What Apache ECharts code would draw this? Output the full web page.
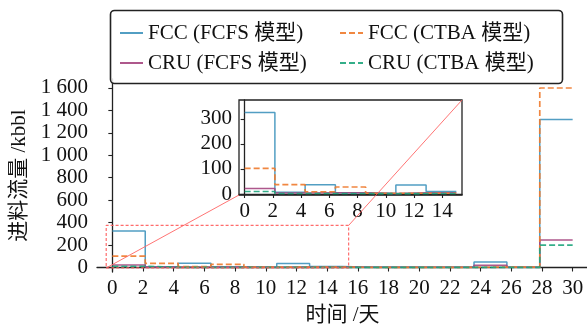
<!DOCTYPE html>
<html><head><meta charset="utf-8">
<script src="https://cdn.jsdelivr.net/npm/echarts@6/dist/echarts.min.js"></script>
<style>html,body{margin:0;padding:0;background:#fff}#c{width:587px;height:324px}</style>
</head><body><div id="c"></div>
<script>
// step boundaries (days)
const times = [0, 2.143, 4.286, 6.429, 8.571, 10.714, 12.857, 15, 17.143, 19.286, 21.429, 23.571, 25.714, 27.857, 30];
// feed flow per interval (kbbl)
const fccFcfs = [325, 7, 37, 5, 2, 36, 10, 2, 2, 2, 2, 50, 2, 1320];
const cruFcfs = [22, 4, 5, 5, 2, 5, 5, 2, 2, 2, 2, 20, 2, 245];
const fccCtba = [102, 37, 9, 28, 3, 3, 3, 2, 2, 2, 2, 3, 3, 1600];
const cruCtba = [10, 2, 2, 2, 1, 2, 2, 1, 1, 1, 1, 2, 2, 200];
const names = ['FCC (FCFS 模型)', 'CRU (FCFS 模型)', 'FCC (CTBA 模型)', 'CRU (CTBA 模型)'];
const mainXTicks = [0,2,4,6,8,10,12,14,16,18,20,22,24,26,28,30];
const mainYTicks = [0,200,400,600,800,1000,1200,1400,1600];
const insetXTicks = [0,2,4,6,8,10,12,14];
const insetYTicks = [0,100,200,300];
const insetXLim = [-0.4, 15.4];
const insetYLim = [-4, 375];

const FONT = "'Liberation Serif', 'Noto Sans CJK SC', serif";
const colors = ['#3f93bd', '#a5467f', '#ee7a2c', '#1ea57c'];
const dashes = ['solid', 'solid', [6,3], [6,3]];
const widths = [1.5, 1.6, 1.7, 1.7];
const allVals = [fccFcfs, cruFcfs, fccCtba, cruCtba];

function stepData(vals, upto) {
  let n = vals.length;
  if (upto !== undefined) { n = 0; while (n < vals.length && times[n+1] <= upto + 1e-6) n++; }
  const pts = vals.slice(0, n).map((v, i) => [times[i], v]);
  pts.push([times[n], vals[n-1]]);
  return pts;
}
function fmt(v){ return String(v).replace(/\B(?=(\d{3})+(?!\d))/g, ' '); }

const txt = {fontFamily: FONT, fontSize: 21, color: '#111'};
const series = [];
allVals.forEach((vals, k) => {
  series.push({name: names[k], type: 'line', step: 'end', symbol: 'none', xAxisIndex: 0, yAxisIndex: 0,
    data: stepData(vals), lineStyle: {color: colors[k], width: widths[k], type: dashes[k], opacity: 0.9},
    itemStyle: {color: colors[k]}, z: 2 + k, animation: false});
});
allVals.forEach((vals, k) => {
  series.push({name: names[k], type: 'line', step: 'end', symbol: 'none', xAxisIndex: 1, yAxisIndex: 1,
    data: stepData(vals, 15), lineStyle: {color: colors[k], width: widths[k], type: dashes[k], opacity: 0.9},
    itemStyle: {color: colors[k]}, z: 12 + k, animation: false});
});
series.push({name: 'zoomRect', type: 'line', symbol: 'none', xAxisIndex: 0, yAxisIndex: 0, z: 8,
  data: [[insetXLim[0], insetYLim[0]], [insetXLim[1], insetYLim[0]], [insetXLim[1], insetYLim[1]], [insetXLim[0], insetYLim[1]], [insetXLim[0], insetYLim[0]]],
  lineStyle: {color: '#ff5c5c', width: 1.2, type: [3, 2], opacity: 0.9}, animation: false, silent: true});

const axisLine = {show: true, lineStyle: {color: '#222', width: 1.3}};
const axisTick = {show: true, length: 4, lineStyle: {color: '#222', width: 1.1}};

const chart = echarts.init(document.getElementById('c'), null, {renderer: 'canvas'});
const legendCommon = {orient: 'vertical', top: 21, padding: 0, itemGap: 6, itemWidth: 23, itemHeight: 10,
  itemStyle: {color: 'rgba(0,0,0,0)', borderWidth: 0, borderColor: 'rgba(0,0,0,0)'},
  textStyle: {fontFamily: FONT, fontSize: 21, color: '#111', lineHeight: 24}, z: 6, selectedMode: false};
chart.setOption({
  backgroundColor: '#fff',
  animation: false,
  grid: [
    {left: 97, top: 79, width: 491, height: 193, containLabel: false, outerBoundsMode: 'none'},
    {left: 239, top: 100, width: 223, height: 95, containLabel: false, outerBoundsMode: 'none', show: true,
     backgroundColor: '#fff', borderColor: '#222', borderWidth: 1.3, z: 10}
  ],
  xAxis: [
    {type: 'value', gridIndex: 0, min: -1, max: 31, axisLine, splitLine: {show: false},
     axisTick: Object.assign({customValues: mainXTicks}, axisTick),
     axisLabel: Object.assign({customValues: mainXTicks, margin: 6}, txt),
     name: '时间 /天', nameLocation: 'middle', nameGap: 33, nameTextStyle: txt},
    {type: 'value', gridIndex: 1, min: insetXLim[0], max: insetXLim[1], axisLine, splitLine: {show: false}, z: 11,
     axisTick: Object.assign({customValues: insetXTicks}, axisTick),
     axisLabel: Object.assign({customValues: insetXTicks, margin: 6}, txt)}
  ],
  yAxis: [
    {type: 'value', gridIndex: 0, min: -40, max: 1680, axisLine, splitLine: {show: false},
     axisTick: Object.assign({customValues: mainYTicks}, axisTick),
     axisLabel: Object.assign({customValues: mainYTicks, margin: 9, formatter: fmt}, txt),
     name: '进料流量 /kbbl', nameLocation: 'middle', nameGap: 63, nameRotate: 90, nameTextStyle: txt},
    {type: 'value', gridIndex: 1, min: insetYLim[0], max: insetYLim[1], axisLine, splitLine: {show: false}, z: 11,
     axisTick: Object.assign({customValues: insetYTicks}, axisTick),
     axisLabel: Object.assign({customValues: insetYTicks, margin: 7}, txt)}
  ],
  legend: [
    Object.assign({left: 119, data: [names[0], names[1]]}, legendCommon),
    Object.assign({left: 339, data: [names[2], names[3]]}, legendCommon)
  ],
  series
});

const a0 = chart.convertToPixel({gridIndex: 0}, [insetXLim[0], insetYLim[0]]);
const a1 = chart.convertToPixel({gridIndex: 0}, [insetXLim[1], insetYLim[1]]);
const b0 = chart.convertToPixel({gridIndex: 1}, [insetXLim[0], insetYLim[0]]);
const b1 = chart.convertToPixel({gridIndex: 1}, [insetXLim[1], insetYLim[1]]);
chart.setOption({
  graphic: [
    {id: 'legendFrame', type: 'rect', z: 5, shape: {x: 110.5, y: 10.5, width: 452, height: 73, r: 4},
     style: {fill: 'rgba(255,255,255,0.85)', stroke: '#222', lineWidth: 1.6}},
    {id: 'c1', type: 'line', z: 20, shape: {x1: a0[0], y1: a0[1], x2: b0[0], y2: b0[1]},
     style: {stroke: '#ff5c5c', lineWidth: 1, opacity: 0.85}},
    {id: 'c2', type: 'line', z: 20, shape: {x1: a1[0], y1: a1[1], x2: b1[0], y2: b1[1]},
     style: {stroke: '#ff5c5c', lineWidth: 1, opacity: 0.85}}
  ]
});
</script></body></html>
